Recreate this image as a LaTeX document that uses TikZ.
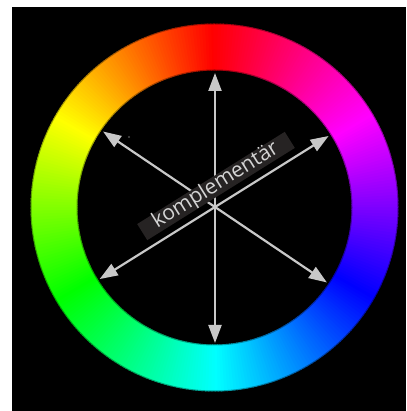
\documentclass[tikz,border=0pt]{standalone}
\usepackage{fontspec}
\setsansfont{Open Sans}
\usetikzlibrary{arrows.meta,calc}
\definecolor{arrowgray}{HTML}{C8C8C8}
\definecolor{boxfill}{HTML}{262323}
\definecolor{labeltext}{HTML}{D4D4D4}
\begin{document}
\begin{tikzpicture}[x=1pt,y=1pt,
  spoke/.style={draw=arrowgray, line width=2.2pt,
    {Triangle[length=18pt,width=13pt]}-{Triangle[length=18pt,width=13pt]}},
  labelbox/.style={fill=boxfill, rotate=32, minimum width=174pt, minimum height=19pt,
    inner sep=0pt, text height=14.5pt, text depth=4.5pt, text=labeltext,
    font=\sffamily\fontsize{21}{21}\selectfont}
]
\useasboundingbox (0,0) rectangle (406,411);
\fill[white] (0,0) rectangle (406,411);
\fill[black] (12,0) rectangle (406,404);
% colour ring
\begin{scope}[shift={(214.5,203.5)}]
\foreach \i in {0,...,359}{
  \pgfmathsetmacro{\a}{90+\i}
  \pgfmathsetmacro{\b}{90+\i+1.4}
  \definecolor{segc}{Hsb}{\i,1,1}
  \fill[segc] (\a:137) arc[start angle=\a, end angle=\b, radius=137]
    -- (\b:184) arc[start angle=\b, end angle=\a, radius=184] -- cycle;
}
\draw[black, opacity=0.35, line width=2pt] (0,0) circle (137) (0,0) circle (184);
\end{scope}
% spokes
\coordinate (c) at (215,204);
\coordinate (tN) at ($(c)+(90:134)$);
\coordinate (tS) at ($(c)+(270:136)$);
\coordinate (tNW) at ($(c)+(146:135)$);
\coordinate (tSE) at ($(c)+(326:135)$);
\coordinate (tNE) at ($(c)+(32:134)$);
\coordinate (tSW) at ($(c)+(212:136)$);
\draw[spoke] (tS) -- (tN);
\draw[spoke] (tSE) -- (tNW);
\draw[spoke] (tSW) -- (tNE);
% label
\node[labelbox] (lbl) at (216,225) {komplementär};
% small speck
\fill[black!70!white] (129,274) circle (1.1);
\end{tikzpicture}
\end{document}
